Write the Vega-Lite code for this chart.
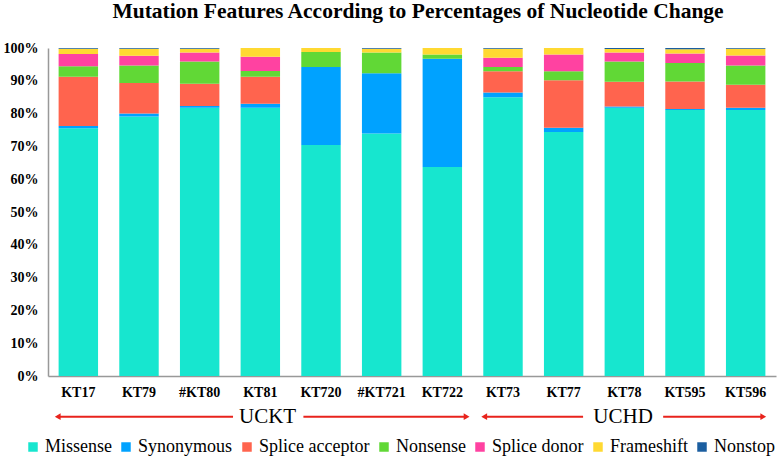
{
  "$schema": "https://vega.github.io/schema/vega-lite/v6.json",
  "width": 728,
  "height": 328,
  "autosize": "none",
  "padding": {"left": 48, "top": 48, "right": 8, "bottom": 83},
  "background": "white",
  "config": {"font": "Liberation Serif", "view": {"stroke": null},
    "axisY": {"title": null, "tickCount": 11, "labelOverlap": false, "labelBound": false, "labelFont": "Liberation Serif", "labelFontSize": 14, "labelFontWeight": "bold", "labelColor": "black", "ticks": false, "grid": false, "labelPadding": 10, "domainColor": "#999999", "domainWidth": 1.5}},
  "title": {"text": "Mutation Features According to Percentages of Nucleotide Change", "fontSize": 21.5, "fontWeight": "bold", "font": "Liberation Serif", "color": "black", "anchor": "middle", "offset": 19, "dx": 6},
  "datasets": {
    "bars": [
      {"sample": "KT17", "type": "Missense", "k": 1, "pct": 75.5},
      {"sample": "KT17", "type": "Synonymous", "k": 2, "pct": 0.7},
      {"sample": "KT17", "type": "Splice acceptor", "k": 3, "pct": 15.0},
      {"sample": "KT17", "type": "Nonsense", "k": 4, "pct": 3.2},
      {"sample": "KT17", "type": "Splice donor", "k": 5, "pct": 3.8},
      {"sample": "KT17", "type": "Frameshift", "k": 6, "pct": 1.6},
      {"sample": "KT17", "type": "Nonstop", "k": 7, "pct": 0.2},
      {"sample": "KT79", "type": "Missense", "k": 1, "pct": 79.1},
      {"sample": "KT79", "type": "Synonymous", "k": 2, "pct": 0.9},
      {"sample": "KT79", "type": "Splice acceptor", "k": 3, "pct": 9.3},
      {"sample": "KT79", "type": "Nonsense", "k": 4, "pct": 5.4},
      {"sample": "KT79", "type": "Splice donor", "k": 5, "pct": 2.9},
      {"sample": "KT79", "type": "Frameshift", "k": 6, "pct": 2.2},
      {"sample": "KT79", "type": "Nonstop", "k": 7, "pct": 0.2},
      {"sample": "#KT80", "type": "Missense", "k": 1, "pct": 81.8},
      {"sample": "#KT80", "type": "Synonymous", "k": 2, "pct": 0.5},
      {"sample": "#KT80", "type": "Splice acceptor", "k": 3, "pct": 6.8},
      {"sample": "#KT80", "type": "Nonsense", "k": 4, "pct": 6.8},
      {"sample": "#KT80", "type": "Splice donor", "k": 5, "pct": 2.7},
      {"sample": "#KT80", "type": "Frameshift", "k": 6, "pct": 1.2},
      {"sample": "#KT80", "type": "Nonstop", "k": 7, "pct": 0.2},
      {"sample": "KT81", "type": "Missense", "k": 1, "pct": 81.8},
      {"sample": "KT81", "type": "Synonymous", "k": 2, "pct": 1.2},
      {"sample": "KT81", "type": "Splice acceptor", "k": 3, "pct": 8.2},
      {"sample": "KT81", "type": "Nonsense", "k": 4, "pct": 1.8},
      {"sample": "KT81", "type": "Splice donor", "k": 5, "pct": 4.3},
      {"sample": "KT81", "type": "Frameshift", "k": 6, "pct": 2.7},
      {"sample": "KT81", "type": "Nonstop", "k": 7, "pct": 0},
      {"sample": "KT720", "type": "Missense", "k": 1, "pct": 70.4},
      {"sample": "KT720", "type": "Synonymous", "k": 2, "pct": 23.8},
      {"sample": "KT720", "type": "Splice acceptor", "k": 3, "pct": 0},
      {"sample": "KT720", "type": "Nonsense", "k": 4, "pct": 4.6},
      {"sample": "KT720", "type": "Splice donor", "k": 5, "pct": 0},
      {"sample": "KT720", "type": "Frameshift", "k": 6, "pct": 1.2},
      {"sample": "KT720", "type": "Nonstop", "k": 7, "pct": 0},
      {"sample": "#KT721", "type": "Missense", "k": 1, "pct": 73.9},
      {"sample": "#KT721", "type": "Synonymous", "k": 2, "pct": 18.4},
      {"sample": "#KT721", "type": "Splice acceptor", "k": 3, "pct": 0},
      {"sample": "#KT721", "type": "Nonsense", "k": 4, "pct": 6.3},
      {"sample": "#KT721", "type": "Splice donor", "k": 5, "pct": 0},
      {"sample": "#KT721", "type": "Frameshift", "k": 6, "pct": 1.2},
      {"sample": "#KT721", "type": "Nonstop", "k": 7, "pct": 0.2},
      {"sample": "KT722", "type": "Missense", "k": 1, "pct": 63.7},
      {"sample": "KT722", "type": "Synonymous", "k": 2, "pct": 33.0},
      {"sample": "KT722", "type": "Splice acceptor", "k": 3, "pct": 0},
      {"sample": "KT722", "type": "Nonsense", "k": 4, "pct": 1.3},
      {"sample": "KT722", "type": "Splice donor", "k": 5, "pct": 0},
      {"sample": "KT722", "type": "Frameshift", "k": 6, "pct": 2.0},
      {"sample": "KT722", "type": "Nonstop", "k": 7, "pct": 0},
      {"sample": "KT73", "type": "Missense", "k": 1, "pct": 85.0},
      {"sample": "KT73", "type": "Synonymous", "k": 2, "pct": 1.4},
      {"sample": "KT73", "type": "Splice acceptor", "k": 3, "pct": 6.5},
      {"sample": "KT73", "type": "Nonsense", "k": 4, "pct": 1.3},
      {"sample": "KT73", "type": "Splice donor", "k": 5, "pct": 2.8},
      {"sample": "KT73", "type": "Frameshift", "k": 6, "pct": 2.8},
      {"sample": "KT73", "type": "Nonstop", "k": 7, "pct": 0.2},
      {"sample": "KT77", "type": "Missense", "k": 1, "pct": 74.4},
      {"sample": "KT77", "type": "Synonymous", "k": 2, "pct": 1.3},
      {"sample": "KT77", "type": "Splice acceptor", "k": 3, "pct": 14.5},
      {"sample": "KT77", "type": "Nonsense", "k": 4, "pct": 2.7},
      {"sample": "KT77", "type": "Splice donor", "k": 5, "pct": 5.1},
      {"sample": "KT77", "type": "Frameshift", "k": 6, "pct": 2.0},
      {"sample": "KT77", "type": "Nonstop", "k": 7, "pct": 0},
      {"sample": "KT78", "type": "Missense", "k": 1, "pct": 81.8},
      {"sample": "KT78", "type": "Synonymous", "k": 2, "pct": 0.4},
      {"sample": "KT78", "type": "Splice acceptor", "k": 3, "pct": 7.5},
      {"sample": "KT78", "type": "Nonsense", "k": 4, "pct": 6.2},
      {"sample": "KT78", "type": "Splice donor", "k": 5, "pct": 2.7},
      {"sample": "KT78", "type": "Frameshift", "k": 6, "pct": 1.1},
      {"sample": "KT78", "type": "Nonstop", "k": 7, "pct": 0.3},
      {"sample": "KT595", "type": "Missense", "k": 1, "pct": 81.1},
      {"sample": "KT595", "type": "Synonymous", "k": 2, "pct": 0.3},
      {"sample": "KT595", "type": "Splice acceptor", "k": 3, "pct": 8.4},
      {"sample": "KT595", "type": "Nonsense", "k": 4, "pct": 5.6},
      {"sample": "KT595", "type": "Splice donor", "k": 5, "pct": 2.9},
      {"sample": "KT595", "type": "Frameshift", "k": 6, "pct": 1.3},
      {"sample": "KT595", "type": "Nonstop", "k": 7, "pct": 0.4},
      {"sample": "KT596", "type": "Missense", "k": 1, "pct": 81.1},
      {"sample": "KT596", "type": "Synonymous", "k": 2, "pct": 0.7},
      {"sample": "KT596", "type": "Splice acceptor", "k": 3, "pct": 7.0},
      {"sample": "KT596", "type": "Nonsense", "k": 4, "pct": 5.9},
      {"sample": "KT596", "type": "Splice donor", "k": 5, "pct": 3.0},
      {"sample": "KT596", "type": "Frameshift", "k": 6, "pct": 2.1},
      {"sample": "KT596", "type": "Nonstop", "k": 7, "pct": 0.2}
    ],
    "arrows": [
      {"group": "UCKT", "from": 0.16, "to": 3.05, "tip": 0.16, "dir": "left"},
      {"group": "UCKT", "from": 4.21, "to": 6.9, "tip": 6.9, "dir": "right"},
      {"group": "UCHD", "from": 7.19, "to": 8.82, "tip": 7.19, "dir": "left"},
      {"group": "UCHD", "from": 10.14, "to": 11.79, "tip": 11.79, "dir": "right"}
    ],
    "groups": [
      {"group": "UCKT", "center": 3.62},
      {"group": "UCHD", "center": 9.48}
    ]
  },
  "resolve": {"scale": {"x": "independent"}},
  "layer": [
    {
      "data": {"name": "bars"},
      "mark": {"type": "bar"},
      "encoding": {
        "x": {"field": "sample", "type": "nominal", "sort": null,
          "scale": {"paddingInner": 0.35, "paddingOuter": 0.175},
          "axis": {"title": null, "labelAngle": 0, "labelFont": "Liberation Serif", "labelFontSize": 14, "labelFontWeight": "bold", "labelColor": "black", "ticks": false, "labelPadding": 9, "domainColor": "#999999", "domainWidth": 1.5}},
        "y": {"field": "pct", "type": "quantitative", "stack": "zero",
          "scale": {"domain": [0, 100], "nice": false},
          "axis": {"labelExpr": "datum.value + '%'"}},
        "order": {"field": "k", "type": "quantitative", "sort": "ascending"},
        "color": {"field": "type", "type": "nominal",
          "scale": {"domain": ["Missense", "Synonymous", "Splice acceptor", "Nonsense", "Splice donor", "Frameshift", "Nonstop"],
                    "range": ["#17E6CF", "#00A2FF", "#FF644E", "#61D836", "#FF42A1", "#FFD932", "#1B5EA0"]},
          "legend": {"title": null, "orient": "none", "legendX": -24, "legendY": 390, "direction": "horizontal", "symbolType": "square", "symbolSize": 90, "symbolStrokeWidth": 0, "labelFont": "Liberation Serif", "labelFontSize": 18, "labelColor": "black", "labelOffset": 3, "columnPadding": 5, "labelLimit": 300}}
      }
    },
    {
      "layer": [
        {
          "data": {"name": "arrows"},
          "mark": {"type": "rule", "color": "#E8231C", "strokeWidth": 2},
          "encoding": {
            "x": {"field": "from", "type": "quantitative", "scale": {"domain": [0, 12], "nice": false, "zero": false}, "axis": null},
            "x2": {"field": "to"},
            "y": {"datum": -12.4, "axis": {"labelExpr": "datum.value + '%'"}}
          }
        },
        {
          "data": {"name": "arrows"},
          "mark": {"type": "point", "filled": true, "color": "#E8231C", "opacity": 1, "size": 45},
          "encoding": {
            "x": {"field": "tip", "type": "quantitative", "scale": {"domain": [0, 12], "nice": false, "zero": false}, "axis": null},
            "y": {"datum": -12.4, "axis": {"labelExpr": "datum.value + '%'"}},
            "shape": {"field": "dir", "type": "nominal", "scale": {"domain": ["left", "right"], "range": ["triangle-left", "triangle-right"]}, "legend": null}
          }
        },
        {
          "data": {"name": "groups"},
          "mark": {"type": "text", "font": "Liberation Serif", "fontSize": 21, "color": "black", "baseline": "middle", "align": "center"},
          "encoding": {
            "x": {"field": "center", "type": "quantitative", "scale": {"domain": [0, 12], "nice": false, "zero": false}, "axis": null},
            "y": {"datum": -12.4, "axis": {"labelExpr": "datum.value + '%'"}},
            "text": {"field": "group"}
          }
        }
      ]
    }
  ]
}
